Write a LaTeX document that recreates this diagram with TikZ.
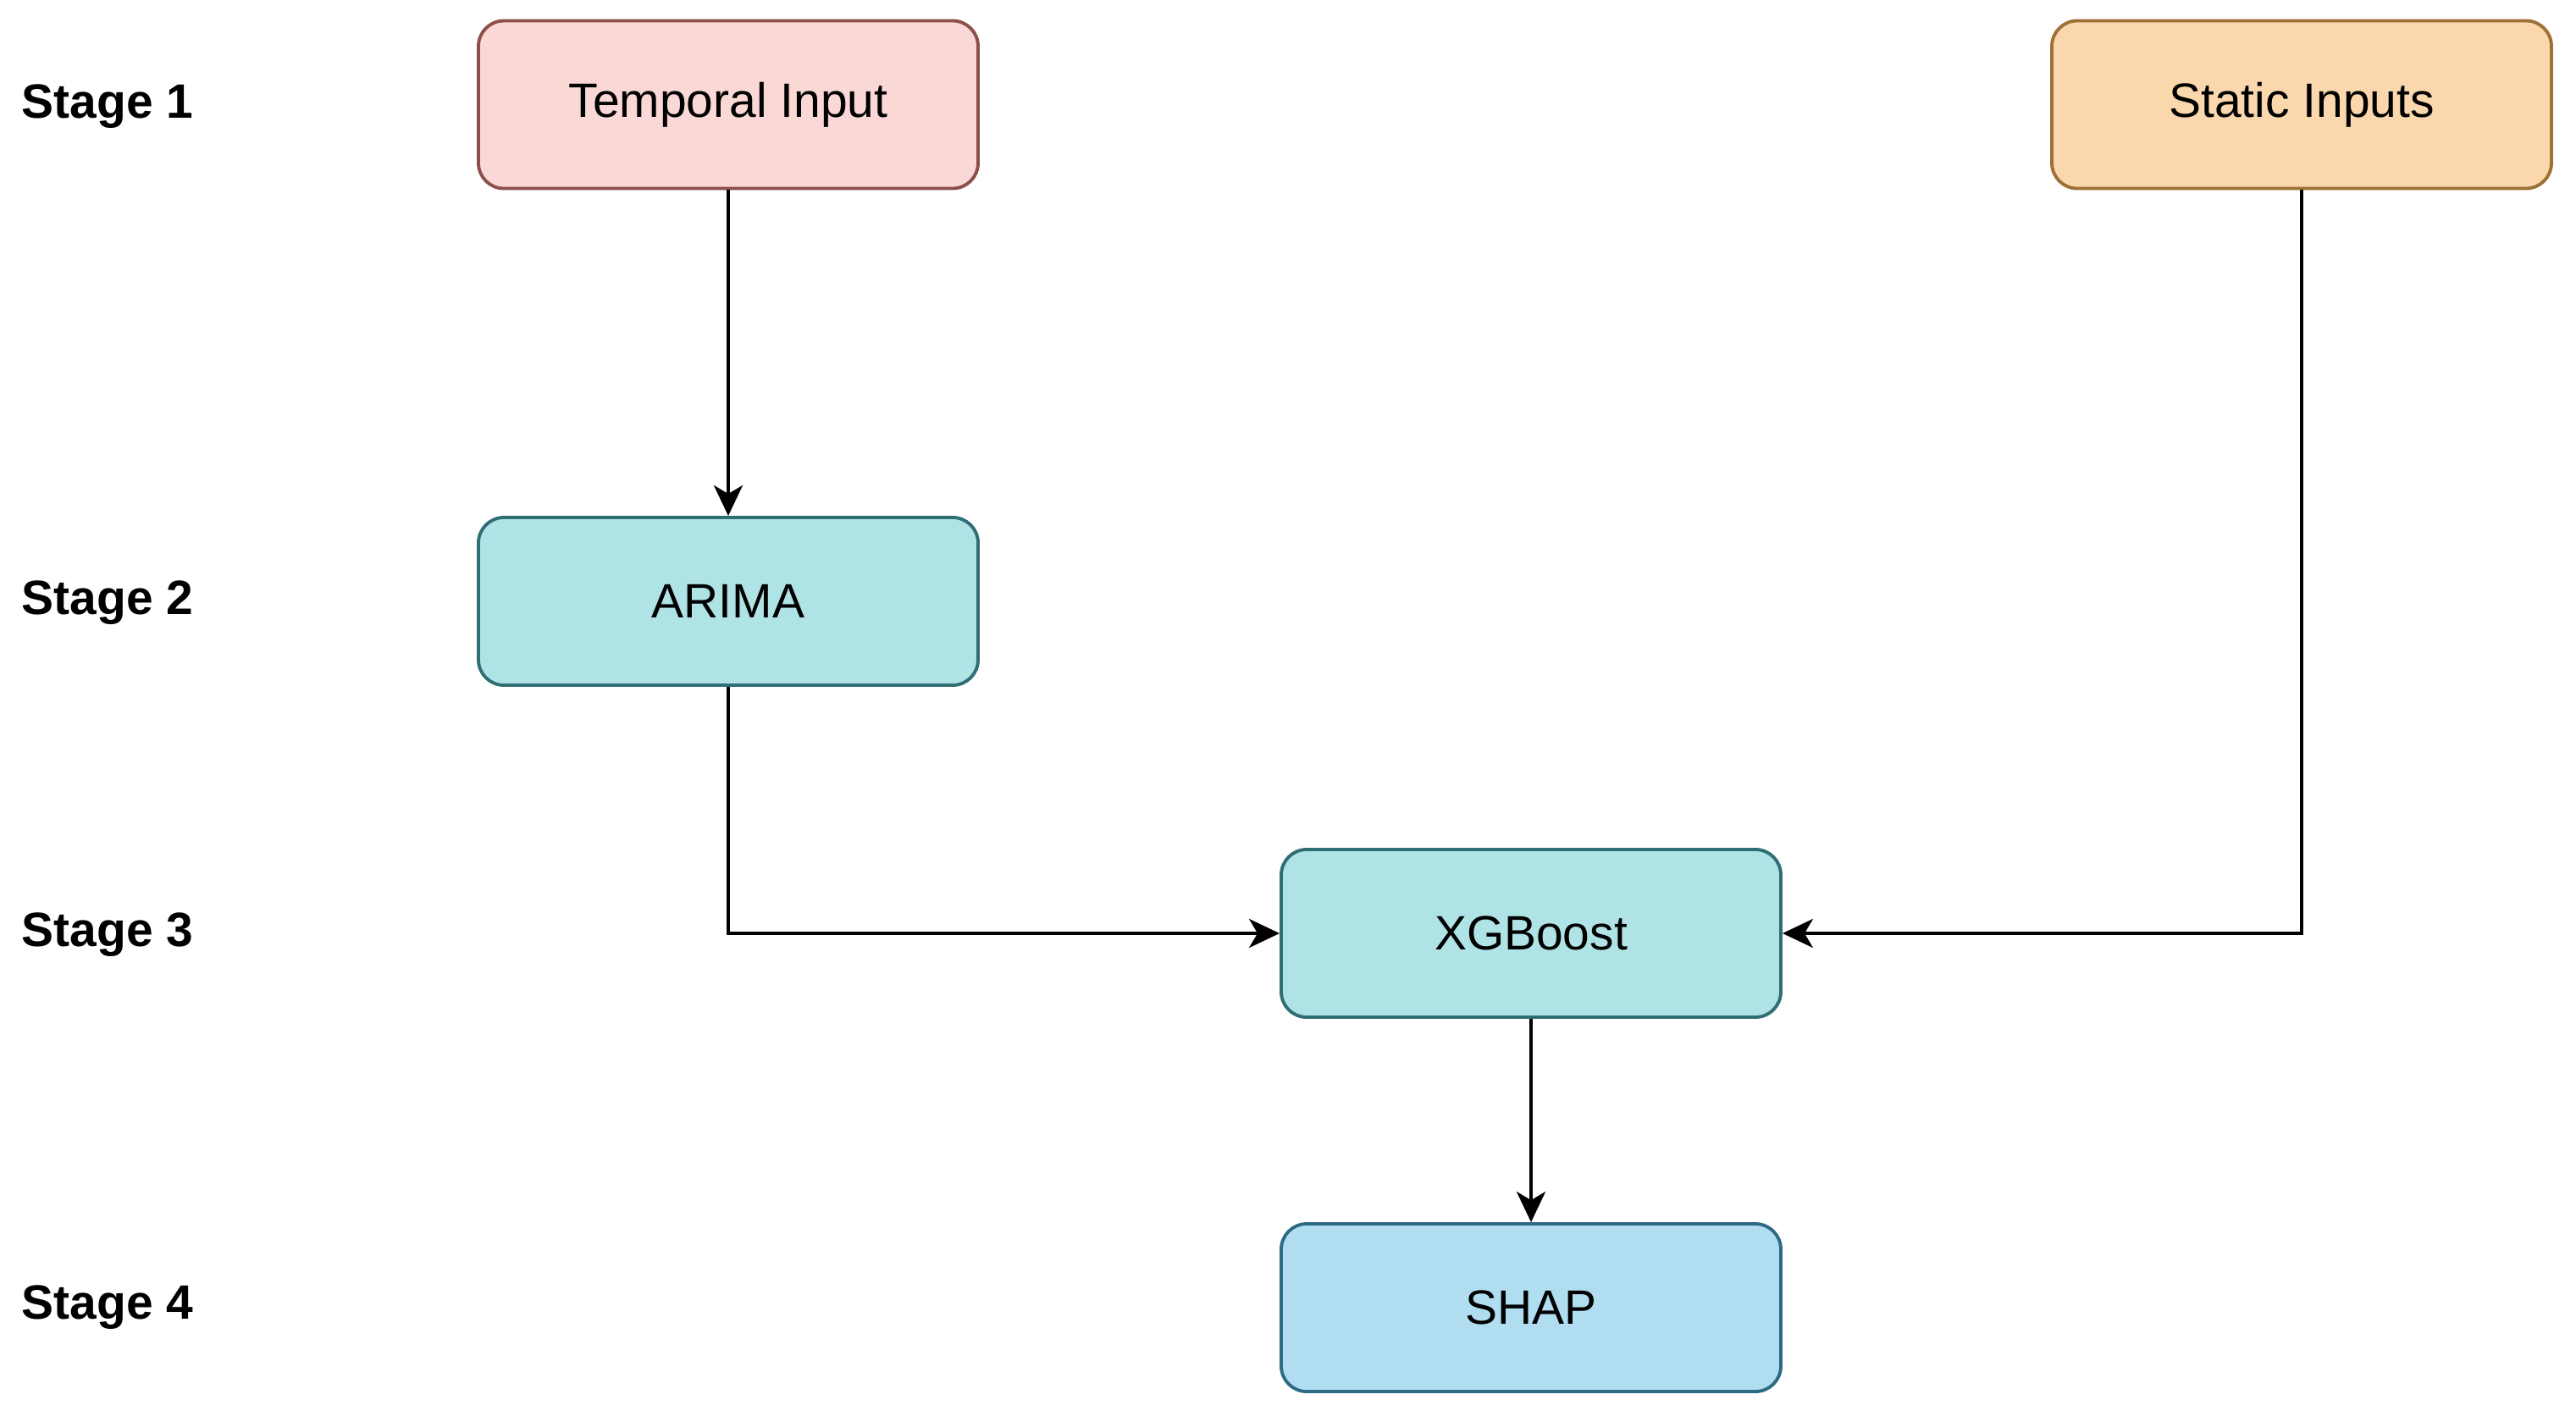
\documentclass[tikz,border=0pt]{standalone}
\usepackage{fontspec}
\setmainfont{Liberation Sans}
\usetikzlibrary{arrows.meta}
\definecolor{tfill}{HTML}{F9D8D5}\definecolor{tdraw}{HTML}{8C4F4A}
\definecolor{sfill}{HTML}{FAD7AC}\definecolor{sdraw}{HTML}{9E7036}
\definecolor{cfill}{HTML}{B0E3E6}\definecolor{cdraw}{HTML}{2F6E74}
\definecolor{bfill}{HTML}{B1DDF0}\definecolor{bdraw}{HTML}{2E6A86}
\tikzset{
  box/.style={rectangle, rounded corners=0.3cm, minimum width=5.9cm, minimum height=1.98cm,
    line width=1.1pt, inner sep=0pt, font=\fontsize{16.2}{19}\selectfont, text=black},
  stagelbl/.style={anchor=west, inner sep=0pt, font=\fontsize{16.2}{19}\selectfont\bfseries},
  conn/.style={line width=1.1pt, -{Stealth[length=0.36cm,width=0.34cm,inset=0.1cm]}}
}
\begin{document}
\begin{tikzpicture}
\useasboundingbox (0,0) rectangle (30.42,-16.65);
\node[box, fill=tfill, draw=tdraw] (temp) at (8.60,-1.235) {Temporal Input};
\node[box, fill=sfill, draw=sdraw] (stat) at (27.18,-1.235) {Static Inputs};
\node[box, fill=cfill, draw=cdraw] (arima) at (8.60,-7.10) {ARIMA};
\node[box, fill=cfill, draw=cdraw] (xgb) at (18.08,-11.02) {XGBoost};
\node[box, fill=bfill, draw=bdraw] (shap) at (18.08,-15.44) {SHAP};
\node[stagelbl] (s1) at (0.25,-1.26) {Stage 1};
\node[stagelbl] (s2) at (0.25,-7.12) {Stage 2};
\node[stagelbl] (s3) at (0.25,-11.04) {Stage 3};
\node[stagelbl] (s4) at (0.25,-15.44) {Stage 4};
\draw[conn] (temp.south) -- (arima.north);
\draw[conn] (arima.south) |- (xgb.west);
\draw[conn] (stat.south) |- (xgb.east);
\draw[conn] (xgb.south) -- (shap.north);
\end{tikzpicture}
\end{document}
